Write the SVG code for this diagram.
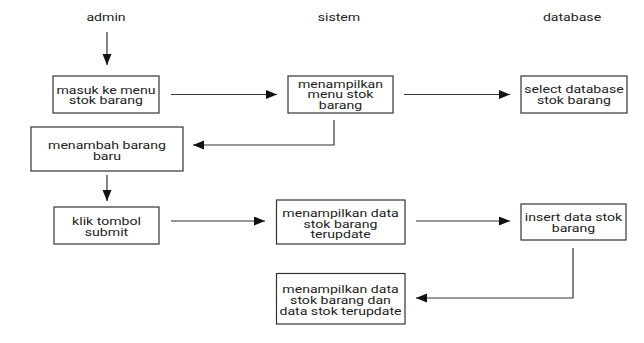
<svg xmlns="http://www.w3.org/2000/svg" width="644" height="343" viewBox="0 0 644 343">
<style>
.bg{fill:#ffffff}
.box{fill:#ffffff;stroke:#333333;stroke-width:1.2}
.t{font-family:Roboto,"Liberation Sans",sans-serif;font-size:10px;fill:#222222;text-anchor:middle;dominant-baseline:central}
.c{fill:none;stroke:#333333;stroke-width:1.2}
</style>
<defs>
<marker id="ah" markerUnits="userSpaceOnUse" markerWidth="12" markerHeight="10" refX="11" refY="4.5" orient="auto">
<path d="M0,0 L11,4.5 L0,9 z" fill="#111111"/>
</marker>
</defs>
<rect class="bg" x="0" y="0" width="644" height="343"/>
<g id="headers">
<text class="t" transform="translate(106,18) scale(1.41,1)">admin</text>
<text class="t" transform="translate(339,18) scale(1.41,1)">sistem</text>
<text class="t" transform="translate(572,18) scale(1.41,1)">database</text>
</g>
<g id="connectors">
<path class="c" d="M107,32 V65" marker-end="url(#ah)"/>
<path class="c" d="M171,94.5 H277" marker-end="url(#ah)"/>
<path class="c" d="M404,94.5 H510" marker-end="url(#ah)"/>
<path class="c" d="M334,120 V145 H193" marker-end="url(#ah)"/>
<path class="c" d="M107,175 V201" marker-end="url(#ah)"/>
<path class="c" d="M171,221 H265" marker-end="url(#ah)"/>
<path class="c" d="M416,221 H510" marker-end="url(#ah)"/>
<path class="c" d="M573,248 V298 H416" marker-end="url(#ah)"/>
</g>
<g id="n1">
<rect class="box" x="53" y="76" width="106" height="37"/>
<text class="t" transform="translate(106,90.5) scale(1.41,1)">masuk ke menu</text>
<text class="t" transform="translate(106,101) scale(1.41,1)">stok barang</text>
</g>
<g id="n2">
<rect class="box" x="288" y="76" width="105" height="37"/>
<text class="t" transform="translate(340.5,84.8) scale(1.41,1)">menampilkan</text>
<text class="t" transform="translate(340.5,95.2) scale(1.41,1)">menu stok</text>
<text class="t" transform="translate(340.5,105.6) scale(1.41,1)">barang</text>
</g>
<g id="n3">
<rect class="box" x="521" y="76" width="106" height="37"/>
<text class="t" transform="translate(574,90) scale(1.41,1)">select database</text>
<text class="t" transform="translate(574,100.5) scale(1.41,1)">stok barang</text>
</g>
<g id="n4">
<rect class="box" x="31" y="127" width="152" height="44"/>
<text class="t" transform="translate(107,146) scale(1.41,1)">menambah barang</text>
<text class="t" transform="translate(107,156.5) scale(1.41,1)">baru</text>
</g>
<g id="n5">
<rect class="box" x="54" y="207" width="105" height="37"/>
<text class="t" transform="translate(106.5,222) scale(1.41,1)">klik tombol</text>
<text class="t" transform="translate(106.5,232.5) scale(1.41,1)">submit</text>
</g>
<g id="n6">
<rect class="box" x="276.5" y="200" width="128.5" height="44"/>
<text class="t" transform="translate(340.5,214) scale(1.41,1)">menampilkan data</text>
<text class="t" transform="translate(340.5,224.5) scale(1.41,1)">stok barang</text>
<text class="t" transform="translate(340.5,235) scale(1.41,1)">terupdate</text>
</g>
<g id="n7">
<rect class="box" x="276.5" y="273.5" width="128.5" height="50.5"/>
<text class="t" transform="translate(340.5,290) scale(1.41,1)">menampilkan data</text>
<text class="t" transform="translate(340.5,300.8) scale(1.41,1)">stok barang dan</text>
<text class="t" transform="translate(340.5,311.5) scale(1.41,1)">data stok terupdate</text>
</g>
<g id="n8">
<rect class="box" x="521" y="204" width="105" height="36"/>
<text class="t" transform="translate(573.5,218) scale(1.41,1)">insert data stok</text>
<text class="t" transform="translate(573.5,228.5) scale(1.41,1)">barang</text>
</g>
</svg>
